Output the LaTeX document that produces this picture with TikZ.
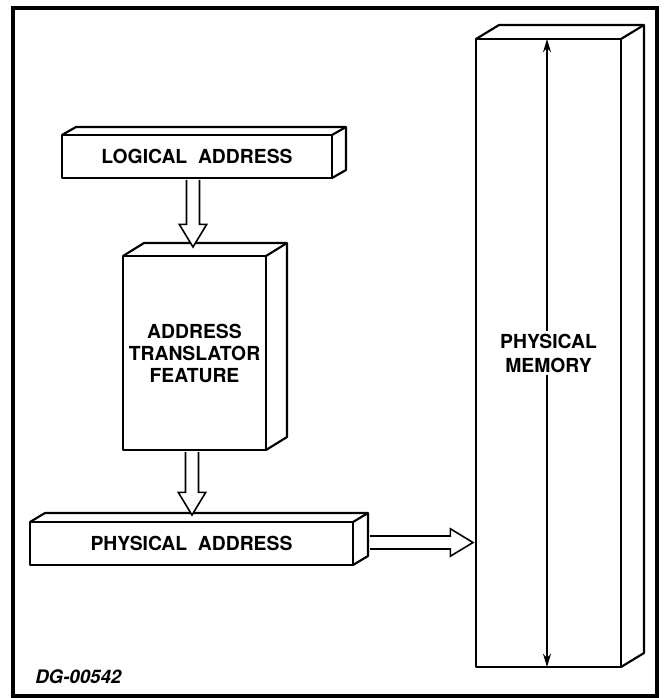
\documentclass[tikz,border=0pt]{standalone}
\usepackage{fontspec}
\setmainfont{TeX Gyre Heros}
\usetikzlibrary{calc,arrows.meta}

% top and right faces of a box drawn behind a front face node
\newcommand\drawDepth[3]{%
  \draw[boxLine] (#1.north west) -- ++(#2,#3) -- ($(#1.north east)+(#2,#3)$)
    -- ($(#1.south east)+(#2,#3)$) -- (#1.south east);
  \draw[boxLine] (#1.north east) -- ++(#2,#3);
}
% hollow block arrow from #1 to the tip #2
\newcommand\hollowArrow[2]{%
  \coordinate (headBase) at ($(#2)!\headLen!(#1)$);
  \draw[arrowLine] ($(#1)!\shaftW!90:(#2)$) -- ($(headBase)!\shaftW!90:(#2)$)
    -- ($(headBase)!\headW!90:(#2)$) -- (#2) -- ($(headBase)!\headW!-90:(#2)$)
    -- ($(headBase)!\shaftW!-90:(#2)$) -- ($(#1)!\shaftW!-90:(#2)$);
}

\begin{document}
\begin{tikzpicture}[x=0.75pt, y=-0.75pt,
    boxLine/.style={line width=1.6pt, line join=round},
    boxFace/.style={draw, boxLine, fill=white, inner sep=0pt, outer sep=0pt,
      align=center, font=\fontsize{14.5}{16.5}\selectfont\bfseries},
    arrowLine/.style={line width=1.2pt, fill=white, line join=miter},
    memArrow/.style={line width=1pt,
      {Stealth[length=10pt,width=6pt]}-{Stealth[length=10pt,width=6pt]}}]
    \def\shaftW{4.9pt}
    \def\headW{10.3pt}
    \def\headLen{17pt}

    \useasboundingbox (0,0) rectangle (667,698);

    % Outer frame
    \draw[line width=2.8pt] (13,8) rectangle (657,696);

    % Front faces
    \node[boxFace, minimum width=202.5pt, minimum height=32.25pt] (logical) at (197,156.5) {LOGICAL\ \ ADDRESS};
    \node[boxFace, minimum width=107.25pt, minimum height=145.5pt] (translator) at (194.5,353) {ADDRESS\\TRANSLATOR\\FEATURE};
    \node[boxFace, minimum width=242.25pt, minimum height=32.25pt] (physical) at (191.5,543.5) {PHYSICAL\ \ ADDRESS};
    \node[boxFace, minimum width=108.75pt, minimum height=471pt] (memory) at (548.5,353) {};

    % Depth of the boxes
    \drawDepth{logical}{14}{-8}
    \drawDepth{translator}{21}{-13}
    \drawDepth{physical}{15}{-9}
    \drawDepth{memory}{23}{-14}

    % Block arrows
    \coordinate (la) at ($(logical.south)+(-4,2)$);
    \coordinate (lb) at ($(translator.north)+(-1.5,-9)$);
    \coordinate (ta) at ($(translator.south)+(-2.5,2)$);
    \coordinate (tb) at ($(physical.north)+(0.5,-7)$);
    \coordinate (pa) at ($(physical.east)+(17,-1)$);
    \coordinate (pb) at ($(memory.west |- pa)+(-3,0)$);
    \hollowArrow{la}{lb}
    \hollowArrow{ta}{tb}
    \hollowArrow{pa}{pb}

    % Span of the memory
    \draw[memArrow] ($(memory.north)+(-1.5,0)$) -- ($(memory.south)+(-1.5,0)$);
    \node[fill=white, inner sep=2pt, align=center, font=\fontsize{14.5}{18}\selectfont\bfseries] (memText) at ($(memory.center)+(0,0)$) {PHYSICAL\\MEMORY};

    % Drawing number
    \node[anchor=west, inner sep=0pt, font=\fontsize{14}{16}\selectfont\bfseries\itshape] (dgNum) at (35,677) {DG-00542};

\end{tikzpicture}
\end{document}
